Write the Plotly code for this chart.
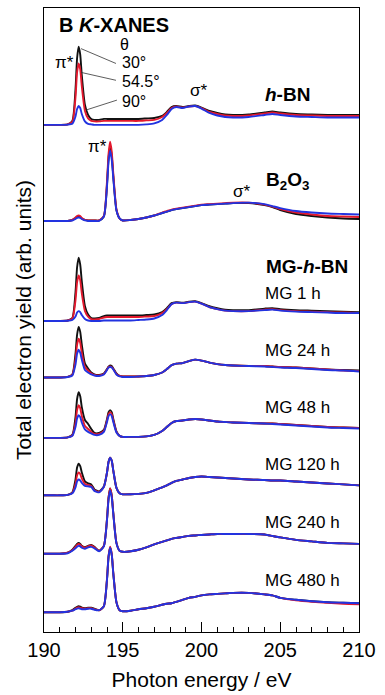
import plotly.graph_objects as go

# Photon energy grid (eV)
energy = [
    190.0, 190.5, 191.0, 191.5, 191.8,
    192.0, 192.1, 192.2, 192.3, 192.4, 192.6, 192.8,
    193.0, 193.2, 193.5, 193.8,
    194.0, 194.1, 194.2, 194.3, 194.4, 194.6, 194.8, 195.0,
    195.5, 196.0, 196.5, 197.0, 197.5, 197.8,
    198.1, 198.4, 198.8, 199.2, 199.6, 200.0,
    200.5, 201.0, 201.5, 202.0, 203.0, 204.0, 204.5,
    205.0, 206.0, 207.0, 208.0, 209.0, 210.0,
]

# ---- h-BN (theta = 30, 54.5, 90 deg) ----
hbn_30 = [0, 0, 0, 0.5, 4,
          36, 67, 79, 71, 50, 20, 10,
          6, 5, 5, 6,
          6, 6, 6, 6, 6, 6, 6, 6,
          6, 6, 6.5, 7, 9, 13,
          18, 19, 18, 19, 19.5, 17.5,
          14, 12, 10.5, 10, 10.5, 12.5, 13.5,
          12.5, 11, 10.5, 10, 10, 10]
hbn_545 = [0, 0, 0, 0.5, 3,
           28, 53, 62, 56, 39, 14, 6.5,
           4, 3.5, 3.5, 4,
           4, 4, 4, 4, 4, 4, 4, 4,
           4, 4, 4.5, 5, 8, 12,
           17, 18.5, 17.5, 18.5, 19, 17,
           13, 11, 9.5, 9, 9.5, 11.5, 12.5,
           11.5, 10, 9.5, 9, 9, 9]
hbn_90 = [0, 0, 0, 0.3, 1.2,
          8.5, 16, 19, 17, 11, 3.5, 1,
          0.5, 0, 0, 0,
          0, 0, 0, 0, 0, 0, 0, 0,
          0, 0, 0.5, 1.5, 5, 10,
          16, 18, 17, 18.5, 19, 16.5,
          12, 9.5, 8, 7.5, 8, 10, 11,
          10, 8.5, 8, 7.5, 7.5, 7.5]

# ---- B2O3 ----
b2o3_30 = [0, 0, 0, 0, 1,
           3, 4, 4.5, 4, 2.5, 1, 0.5,
           0.5, 0.5, 0.5, 4.5,
           37, 64, 75, 66, 45, 11, 2.5, 0.5,
           1, 2, 3.5, 5.5, 8, 9.5,
           11, 12, 13, 14, 15, 16,
           16.5, 17, 17.5, 18, 18, 16, 14,
           11, 7, 5, 3.5, 2.5, 2]
b2o3_545 = [0, 0, 0, 0, 1,
            3.5, 5, 5.5, 5, 3, 1, 0.5,
            0.5, 0.5, 0.5, 5,
            40, 68, 80, 70, 48, 12, 2.5, 0.5,
            1, 2, 3.5, 5.5, 8.5, 10,
            11.5, 12.5, 13.5, 14.5, 15.5, 16.5,
            17, 17.5, 18, 18.5, 18.5, 16.5, 14.5,
            12, 8.5, 6.5, 5, 4.5, 4]
b2o3_90 = [0, 0, 0, 0, 0.5,
           2, 3, 3.5, 3, 2, 0.5, 0,
           0, 0, 0, 4.5,
           35, 60, 71, 62, 43, 10.5, 2.5, 0.5,
           1, 2, 3.5, 5.5, 8, 9.5,
           11, 12, 13, 14, 15, 16,
           16.5, 17, 17.5, 18, 18.5, 17, 15,
           13, 10, 8.5, 7.5, 7, 6.5]

# ---- MG 1 h ----
mg1_30 = [0, 0, 0, 0.5, 3,
          29, 54, 64, 57, 40, 15, 6.5,
          3, 2.5, 3, 5,
          5.5, 5.5, 5.5, 5.5, 5.5, 5.5, 5.5, 5.5,
          5.5, 5.5, 6, 6.5, 9, 13,
          18, 19, 18.5, 19.5, 20, 18,
          15, 13, 11.5, 11, 11, 12.5, 13,
          12, 11, 10.5, 10, 9.5, 9]
mg1_545 = [0, 0, 0, 0.5, 2.5,
           21, 39, 46, 41, 28, 10, 4.5,
           2, 1.5, 2, 3.5,
           4, 4, 4, 4, 4, 4, 4, 4,
           4, 4, 4.5, 5, 8, 12,
           17, 18.5, 18, 19, 19.5, 17.5,
           14, 12, 10.5, 10, 10, 11.5, 12,
           11, 10, 9.5, 9, 8.5, 8]
mg1_90 = [0, 0, 0, 0.2, 1,
          4.5, 8.5, 10, 9, 6, 2, 0.5,
          0, 0, 0, 0.5,
          0.5, 0.5, 0.5, 0.5, 0.5, 0.5, 0.5, 0.5,
          0.5, 1, 1.5, 2.5, 6, 11,
          17, 18.5, 18, 19, 19.5, 17.5,
          14, 12, 10.5, 10, 10, 11, 11.5,
          10.5, 9.5, 9, 8.5, 8, 8]

# ---- MG 24 h ----
mg24_30 = [0, 0, 0, 0.5, 3,
           24, 43, 51, 46, 33, 14, 9,
           5, 3, 2.5, 4,
           8.5, 11, 12, 11.5, 9, 4, 1.5, 1,
           1, 1, 1.5, 2.5, 5, 8.5,
           12.5, 14, 14.5, 16.5, 18, 17,
           15, 13.5, 12.5, 12, 11.5, 11.5, 11,
           10.5, 10, 9, 8, 7.5, 7]
mg24_545 = [0, 0, 0, 0.5, 2.5,
            18, 33, 39, 35, 25, 10.5, 7,
            4, 2.5, 2, 3.5,
            8, 10.5, 11, 10.5, 8.5, 3.5, 1.5, 1,
            1, 1, 1.5, 2.5, 5, 8.5,
            12.5, 14, 14.5, 16.5, 18, 17,
            15, 13.5, 12.5, 12, 11.5, 11.5, 11,
            10.5, 10, 9, 8, 7, 6.5]
mg24_90 = [0, 0, 0, 0.5, 2,
           13, 24, 28, 25, 18, 7.5, 5,
           3, 2, 1.5, 3,
           7.5, 10, 10.5, 10, 8, 3, 1, 0.5,
           0.5, 1, 1.5, 2.5, 5, 8.5,
           12.5, 14, 14.5, 16.5, 18, 17,
           15, 13.5, 12.5, 12, 11.5, 11, 10.5,
           10, 9.5, 8.5, 7.5, 7, 6]

# ---- MG 48 h ----
mg48_30 = [0, 0, 0, 0.5, 3,
           21, 39, 46, 42, 31, 18, 14,
           9, 5, 5, 8,
           19, 26, 28, 26, 19, 6.5, 2, 1,
           1, 1, 1.5, 3, 7, 11,
           15, 17, 17.5, 18.5, 19, 18.5,
           17.5, 16.5, 16, 15.5, 15, 14.5, 14.5,
           14, 13, 12, 11, 10.5, 10]
mg48_545 = [0, 0, 0, 0.5, 2.5,
            15, 28, 33, 30, 22, 12, 9,
            6, 4, 4, 7,
            17.5, 24, 26, 24, 17.5, 6, 2, 1,
            1, 1, 1.5, 3, 7, 11,
            15, 17, 17.5, 18.5, 19, 18.5,
            17.5, 16.5, 16, 15.5, 15, 14.5, 14.5,
            14, 13, 12, 11, 10.5, 10]
mg48_90 = [0, 0, 0, 0.5, 2,
           11, 19.5, 23, 21, 15.5, 8.5, 6,
           4.5, 3, 3, 6,
           16, 22, 24, 22, 16, 5.5, 2, 1,
           1, 1, 1.5, 3, 7, 11,
           15, 17, 17.5, 18.5, 19, 18.5,
           17.5, 16.5, 16, 15.5, 15, 14.5, 14,
           13.5, 12.5, 11.5, 10.5, 10, 9.5]

# ---- MG 120 h ----
mg120_30 = [0, 0, 0, 0.5, 3,
            16, 28, 32, 29.5, 23, 14, 12,
            11, 6, 4, 9,
            23, 34, 38, 35, 25, 7.5, 2, 1,
            1, 1.5, 2.5, 5, 8, 10,
            12.5, 14.5, 16, 17.5, 18.5, 19,
            18.5, 18, 17.5, 17, 16, 15.5, 15,
            15, 14, 13, 12, 11, 10]
mg120_545 = [0, 0, 0, 0.5, 2.5,
             11.5, 20, 23, 21.5, 17, 11.5, 10.5,
             9.5, 5, 3.5, 8.5,
             23, 34, 38, 35, 25, 7.5, 2, 1,
             1, 1.5, 2.5, 5, 8, 10,
             12.5, 14.5, 16, 17.5, 18.5, 19,
             18.5, 18, 17.5, 17, 16, 15.5, 15,
             15, 14, 13, 12, 11, 10]
mg120_90 = [0, 0, 0, 0.5, 2,
            8, 14, 16, 15, 12.5, 9.5, 9,
            8.5, 4.5, 3, 8.5,
            23, 34, 38, 35, 25, 7.5, 2, 1,
            1, 1.5, 2.5, 5, 8, 10,
            12.5, 14.5, 16, 17.5, 18.5, 19,
            18.5, 18, 17.5, 17, 16, 15.5, 15,
            15, 14, 13, 12, 11, 10]

# ---- MG 240 h ----
mg240_30 = [0, 0, 0, 1, 4,
            8, 10, 11, 10, 8, 6.5, 8,
            9, 7, 3, 8,
            35, 57, 66, 59, 41, 11, 3, 2,
            2.5, 4, 6.5, 9.5, 12, 13.5,
            15, 16, 17, 18, 18.5, 19,
            19.5, 20, 20, 20, 20, 19.5, 18,
            16.5, 14, 12.5, 11, 10.5, 10]
mg240_545 = [0, 0, 0, 1, 3.5,
             7, 9, 10, 9, 7.5, 6, 7.5,
             8.5, 6.5, 3, 8,
             35, 57, 66, 59, 41, 11, 3, 2,
             2.5, 4, 6.5, 9.5, 12, 13.5,
             15, 16, 17, 18, 18.5, 19,
             19.5, 20, 20, 20, 20, 19.5, 18,
             16.5, 14, 12.5, 11, 10.5, 10]
mg240_90 = [0, 0, 0, 0.5, 3,
            5.5, 7, 8, 7.5, 6, 5, 6.5,
            7, 5.5, 2.5, 7.5,
            34, 55, 64, 57, 40, 10.5, 3, 2,
            2.5, 4, 6.5, 9.5, 12, 13.5,
            15, 16, 17, 18, 18.5, 19,
            19.5, 20, 20, 20, 20, 19.5, 18,
            16.5, 14, 12.5, 11, 10.5, 10]

# ---- MG 480 h ----
mg480_30 = [0, 0, 0, 0.5, 2,
            4.5, 5.5, 6, 5.5, 4.5, 4, 4.5,
            4.5, 3.5, 2, 6,
            33, 56, 65, 58, 39, 10, 2, 1,
            1.5, 3, 4, 5.5, 7.5, 8.5,
            9, 10.5, 12.5, 14.5, 15.5, 17,
            18, 18.5, 19, 19.5, 19.5, 18, 17,
            14.5, 12.5, 11, 10, 9.5, 9]
mg480_545 = [0, 0, 0, 0.5, 1.5,
             3.5, 4.5, 5, 4.5, 4, 3.5, 4,
             4, 3, 2, 6,
             34, 57, 66, 59, 40, 10, 2, 1,
             1.5, 3, 4, 5.5, 7.5, 8.5,
             9, 10.5, 12.5, 14.5, 15.5, 17,
             18, 18.5, 19, 19.5, 19.5, 18, 17,
             14.5, 12, 10.5, 9.5, 8.5, 8]
mg480_90 = [0, 0, 0, 0.5, 1.5,
            3, 3.5, 4, 3.5, 3, 3, 3.5,
            3.5, 2.5, 2, 6,
            33, 56, 65, 58, 39, 10, 2, 1,
            1.5, 3, 4, 5.5, 7.5, 8.5,
            9, 10.5, 12.5, 14.5, 15.5, 17,
            18, 18.5, 19, 19.5, 19.5, 18, 17,
            14.5, 12.5, 11, 10, 9.5, 9]

samples = ["h-BN", "B2O3", "MG 1 h", "MG 24 h", "MG 48 h", "MG 120 h", "MG 240 h", "MG 480 h"]
spectra = [
    (hbn_30, hbn_545, hbn_90),
    (b2o3_30, b2o3_545, b2o3_90),
    (mg1_30, mg1_545, mg1_90),
    (mg24_30, mg24_545, mg24_90),
    (mg48_30, mg48_545, mg48_90),
    (mg120_30, mg120_545, mg120_90),
    (mg240_30, mg240_545, mg240_90),
    (mg480_30, mg480_545, mg480_90),
]
offsets = [512, 415, 314, 257, 196, 138, 79, 20]
angles = ["30°", "54.5°", "90°"]
colors = ["#111111", "#e3182d", "#2233e0"]

for grp in spectra:
    for s in grp:
        assert len(s) == len(energy), len(s)

FONT = "Arial, Liberation Sans, sans-serif"
fig = go.Figure()
for name, grp, off in zip(samples, spectra, offsets):
    for ang, s, c in zip(angles, grp, colors):
        fig.add_trace(go.Scatter(
            x=energy, y=[v + off for v in s], mode="lines",
            name=f"{name} {ang}",
            line=dict(color=c, width=1.9, shape="spline", smoothing=0.6),
            showlegend=False, hoverinfo="skip"))

ann = []
def txt(x, y, t, size=17, anchor="center"):
    ann.append(dict(x=x, y=y, xref="x", yref="y", text=t, showarrow=False,
                    xanchor=anchor, yanchor="middle",
                    font=dict(family=FONT, size=size, color="black")))

txt(190.83, 613, "<b>B <i>K</i>-XANES</b>", size=20, anchor="left")
txt(195.14, 593, "θ", size=16)
txt(194.83, 575, "30°", size=16, anchor="left")
txt(194.83, 556, "54.5°", size=16, anchor="left")
txt(194.83, 536, "90°", size=16, anchor="left")
txt(191.27, 575, "π*", size=17)
txt(199.78, 547, "σ*", size=17)
txt(203.9, 543, "<b><i>h</i>-BN</b>", size=19, anchor="left")
txt(193.37, 490, "π*", size=17)
txt(202.57, 445, "σ*", size=17)
txt(203.97, 455, "<b>B<sub>2</sub>O<sub>3</sub></b>", size=19, anchor="left")
txt(203.97, 369, "<b>MG-<i>h</i>-BN</b>", size=19, anchor="left")
mg_label_y = [342, 284, 227, 169, 111, 52]
for lab, yy in zip(samples[2:], mg_label_y):
    txt(203.9, yy, lab, size=17, anchor="left")

shapes = []
for (x0, y0, x1, y1) in [(192.35, 589, 194.57, 574),
                         (192.35, 565, 194.57, 557),
                         (192.67, 527, 194.63, 537)]:
    shapes.append(dict(type="line", xref="x", yref="y", x0=x0, y0=y0, x1=x1, y1=y1,
                       line=dict(color="#333333", width=0.8)))

fig.update_layout(
    width=385, height=695,
    margin=dict(l=44, r=26, t=7, b=58),
    plot_bgcolor="white", paper_bgcolor="white",
    annotations=ann, shapes=shapes,
    font=dict(family=FONT, color="black"),
)
fig.update_xaxes(
    range=[190, 210], tick0=190, dtick=5,
    ticks="inside", ticklen=10, tickwidth=1.2, tickcolor="black",
    minor=dict(ticks="inside", ticklen=5, dtick=1, tickcolor="black", tickwidth=1),
    showline=True, linecolor="black", linewidth=1.3, mirror=True,
    showgrid=False, zeroline=False,
    tickfont=dict(family=FONT, size=20, color="black"),
    title=dict(text="Photon energy / eV", font=dict(family=FONT, size=21, color="black"), standoff=12),
)
fig.update_yaxes(
    range=[0, 630], showticklabels=False, ticks="",
    showline=True, linecolor="black", linewidth=1.3, mirror=True,
    showgrid=False, zeroline=False,
    title=dict(text="Total electron yield (arb. units)", font=dict(family=FONT, size=21, color="black"), standoff=5),
)

fig.write_html("out.html")
